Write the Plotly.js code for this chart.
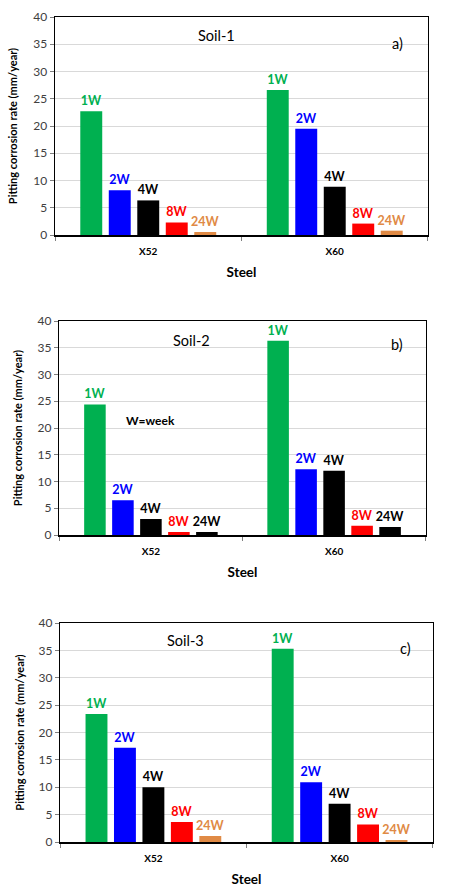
<!DOCTYPE html>
<html><head><meta charset="utf-8">
<script src="https://cdn.plot.ly/plotly-3.0.1.min.js"></script>
<style>html,body{margin:0;padding:0;background:#fff}#chart{width:449px;height:895px}</style>
</head><body><div id="chart"></div>
<script>
const steels = ['X52', 'X60'];
const durations = ['1W', '2W', '4W', '8W', '24W'];
// Values per panel: each inner array = [X52, X60] for one duration
const soil1 = [[22.7, 26.6], [8.2, 19.5], [6.35, 8.85], [2.3, 2.1], [0.55, 0.8]];
const soil2 = [[24.4, 36.3], [6.5, 12.3], [3.0, 12.0], [0.55, 1.75], [0.55, 1.5]];
const soil3 = [[23.4, 35.3], [17.2, 10.9], [10.0, 7.0], [3.65, 3.2], [1.1, 0.35]];
const panelTitles = ['Soil-1', 'Soil-2', 'Soil-3'];
const panelLetters = ['a)', 'b)', 'c)'];
const yTitle = 'Pitting corrosion rate (mm/year)';
const xTitle = 'Steel';
const note = 'W=week';

const colorsAC = ['#00B050', '#0000FF', '#000000', '#FF0000', '#E08A45'];
const colorsB = ['#00B050', '#0000FF', '#000000', '#FF0000', '#000000'];
const panels = [soil1, soil2, soil3];
const panelColors = [colorsAC, colorsB, colorsAC];
const font = 'Lato, "Open Sans", sans-serif';

const traces = [];
panels.forEach((vals, p) => {
  const sfx = p === 0 ? '' : String(p + 1);
  vals.forEach((v, i) => {
    traces.push({
      type: 'bar', x: steels, y: v, name: durations[i],
      xaxis: 'x' + sfx, yaxis: 'y' + sfx,
      marker: {color: panelColors[p][i], line: {width: 0}},
      text: steels.map(() => durations[i]),
      textposition: 'outside', cliponaxis: false, constraintext: 'none',
      textfont: {family: font, size: 12.5, color: panelColors[p][i], weight: 'bold'},
      hoverinfo: 'x+y', showlegend: false
    });
  });
});

const xd = [[0.1225, 0.9532], [0.1321, 0.9481], [0.1343, 0.9637]];
const yd = [[0.7374, 0.9810], [0.4022, 0.6413], [0.0592, 0.3039]];

const layout = {
  width: 449, height: 895,
  margin: {l: 0, r: 0, t: 0, b: 0},
  paper_bgcolor: '#fff', plot_bgcolor: '#fff',
  barmode: 'group', bargap: 0.236, bargroupgap: 0.23,
  showlegend: false, annotations: []
};

for (let p = 0; p < 3; p++) {
  const sfx = p === 0 ? '' : String(p + 1);
  layout['xaxis' + sfx] = {
    domain: xd[p], anchor: 'y' + sfx, type: 'category',
    showline: true, linecolor: '#000', linewidth: 1.5, mirror: true,
    ticks: 'outside', tickson: 'boundaries', ticklen: 4, tickcolor: '#7f7f7f',
    tickfont: {family: font, size: 10, color: '#000', weight: 'bold'},
    ticklabelstandoff: 6,
    title: {text: xTitle, font: {family: font, size: 13.5, color: '#000', weight: 'bold'}, standoff: 12},
    showgrid: false, fixedrange: true
  };
  layout['yaxis' + sfx] = {
    domain: yd[p], anchor: 'x' + sfx, range: [0, 40], dtick: 5,
    showline: true, linecolor: '#000', linewidth: 1.5, mirror: true,
    ticks: 'outside', ticklen: 4, tickcolor: '#7f7f7f',
    tickfont: {family: font, size: 12, color: '#404040'},
    gridcolor: '#D9D9D9', gridwidth: 1, zeroline: false,
    title: {text: yTitle, font: {family: font, size: 11, color: '#000', weight: 'bold'}, standoff: [13, 12, 11][p]},
    fixedrange: true
  };
  const xr = 'x' + sfx + ' domain', yr = 'y' + sfx + ' domain';
  layout.annotations.push({
    text: panelTitles[p], xref: xr, yref: yr, showarrow: false,
    x: [0.434, 0.361, 0.336][p], y: [0.916, 0.91, 0.92][p], xanchor: 'center', yanchor: 'middle',
    font: {family: font, size: 14.5, color: '#000'}
  });
  layout.annotations.push({
    text: panelLetters[p], xref: xr, yref: yr, showarrow: false,
    x: [0.917, 0.923, 0.926][p], y: [0.88, 0.89, 0.885][p], xanchor: 'center', yanchor: 'middle',
    font: {family: font, size: 14.5, color: '#000'}
  });
}
layout.annotations.push({
  text: note, xref: 'x2 domain', yref: 'y2 domain', showarrow: false,
  x: 0.25, y: 0.535, xanchor: 'center', yanchor: 'middle',
  font: {family: font, size: 12, color: '#000', weight: 'bold'}
});

Plotly.newPlot('chart', traces, layout, {displayModeBar: false, staticPlot: true});
</script></body></html>
